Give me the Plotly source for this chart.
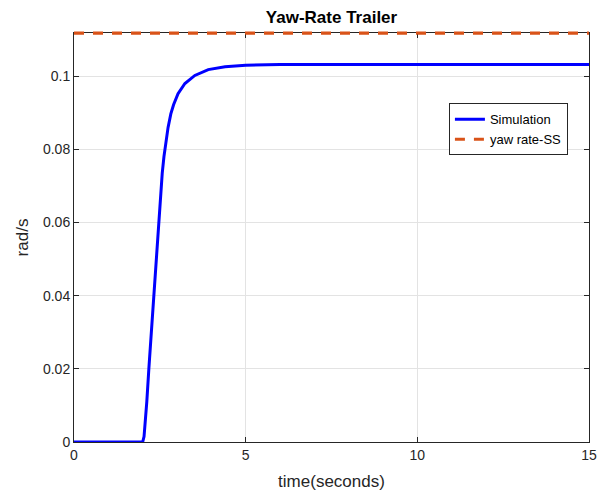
import plotly.graph_objects as go

# Data
t_sim = [0, 2.00, 2.04, 2.08, 2.12, 2.18, 2.25, 2.32, 2.39, 2.46, 2.52, 2.57, 2.62,
         2.67, 2.74, 2.82, 2.90, 3.03, 3.23, 3.52, 3.91, 4.40, 5.00, 6.00, 8.00, 15.0]
yaw_sim = [0, 0, 0.0015, 0.0055, 0.0110, 0.0200, 0.0300, 0.0400, 0.0498, 0.0595,
           0.0680, 0.0735, 0.0780, 0.0818, 0.0860, 0.0897, 0.0922, 0.0952, 0.0980,
           0.1002, 0.1018, 0.1026, 0.1030, 0.1032, 0.1032, 0.1032]
t_ss = [0, 15]
yaw_ss = [0.1118, 0.1118]

x_ticks = [0, 5, 10, 15]
y_ticks = [0, 0.02, 0.04, 0.06, 0.08, 0.1]
y_tick_text = ["0", "0.02", "0.04", "0.06", "0.08", "0.1"]

FONT = "Liberation Sans, Arial, Helvetica"
SS_COLOR = "#D95319"

fig = go.Figure()
fig.add_trace(go.Scatter(x=t_sim, y=yaw_sim, mode="lines", name="Simulation",
                         line=dict(color="#0000FF", width=3)))
fig.add_trace(go.Scatter(x=t_ss, y=yaw_ss, mode="lines", name="yaw rate-SS",
                         line=dict(color=SS_COLOR, width=3, dash="10px,9px")))

axis_common = dict(showline=True, linecolor="#262626", linewidth=1, mirror="ticks",
                   ticks="inside", ticklen=5, tickcolor="#262626", automargin=False,
                   showgrid=True, gridcolor="#E3E3E3", gridwidth=1, zeroline=False,
                   tickfont=dict(family=FONT, size=14, color="#262626"))

fig.update_layout(
    width=606, height=496,
    margin=dict(l=74, r=17, t=33, b=54),
    paper_bgcolor="white", plot_bgcolor="white",
    title=dict(text="<b>Yaw-Rate Trailer</b>", x=(74 + 589) / 2 / 606, xanchor="center",
               y=1 - 17 / 496, yanchor="middle",
               font=dict(family=FONT, size=17, color="black")),
    xaxis=dict(range=[0, 15], tickvals=x_ticks,
               title=dict(text="time(seconds)", standoff=13,
                          font=dict(family=FONT, size=17, color="#262626")),
               **axis_common),
    yaxis=dict(range=[0, 0.1118], tickvals=y_ticks, ticktext=y_tick_text,
               title=dict(text="rad/s", standoff=10,
                          font=dict(family=FONT, size=17, color="#262626")),
               **axis_common),
    legend=dict(x=0.728, y=0.828, xanchor="left", yanchor="top",
                bgcolor="white", bordercolor="#262626", borderwidth=1,
                font=dict(family=FONT, size=13, color="black"),
                tracegroupgap=0, itemwidth=30),
    showlegend=True,
    # steady-state line redrawn unclipped on the top edge of the axes (same value as yaw_ss)
    shapes=[dict(type="line", xref="paper", yref="paper", x0=0, x1=1, y0=1, y1=1,
                 layer="above", line=dict(color=SS_COLOR, width=3, dash="10px,9px"))],
)

fig.write_html("out.html")
